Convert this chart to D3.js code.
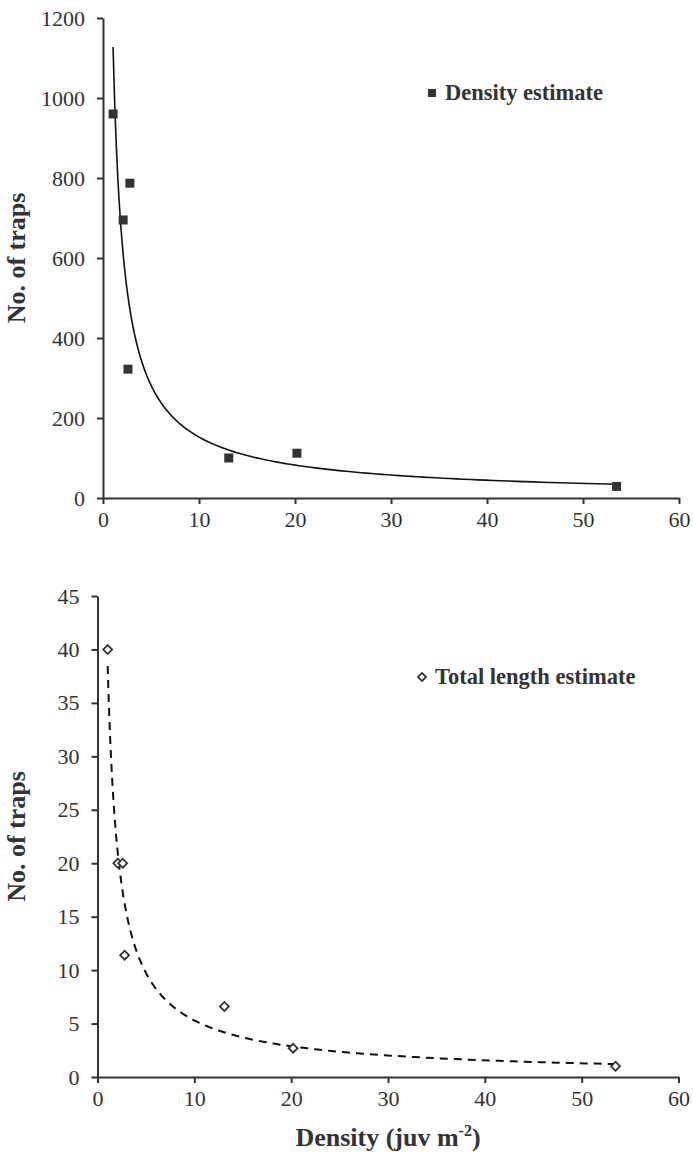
<!DOCTYPE html>
<html>
<head>
<meta charset="utf-8">
<script src="https://cdn.jsdelivr.net/npm/d3@7"></script>
<style>
  body { margin: 0; background: #fff; }
  text { font-family: "Liberation Serif", "Times New Roman", serif; fill: #333; }
</style>
</head>
<body>
<div id="chart"></div>
<script>
const width = 693;
const height = 1152;

// densities (juv m-2)
const densityX = [1.05, 2.1, 2.6, 2.8, 13.1, 20.2, 53.5];
// no. of traps, density estimate
const trapsDensity = [960, 695, 322, 787, 100, 112, 29];
// no. of traps, total length estimate
const trapsLength = [40, 20, 20, 11.4, 6.6, 2.7, 1.0];

const xTicks = [0, 10, 20, 30, 40, 50, 60];
const yTicksTop = [0, 200, 400, 600, 800, 1000, 1200];
const yTicksBottom = [0, 5, 10, 15, 20, 25, 30, 35, 40, 45];

// power trendline (least squares on log-log), like the spreadsheet one
function powerFit(xs, ys) {
    const lx = xs.map(Math.log), ly = ys.map(Math.log);
    const mx = d3.mean(lx), my = d3.mean(ly);
    const b = d3.sum(lx, (v, i) => (v - mx) * (ly[i] - my)) / d3.sum(lx, v => (v - mx) * (v - mx));
    const a = Math.exp(my - b * mx);
    return x => a * Math.pow(x, b);
}

const svg = d3.select("#chart").append("svg")
    .attr("width", width)
    .attr("height", height);

function drawPanel(opts) {
    const x = d3.scaleLinear().domain([0, 60]).range([opts.left, opts.right]);
    const y = d3.scaleLinear().domain(opts.yDomain).range([opts.bottom, opts.top]);
    const g = svg.append("g");

    const xAxis = g.append("g")
        .attr("transform", `translate(0,${opts.bottom})`)
        .call(d3.axisBottom(x).tickValues(xTicks).tickFormat(d3.format("d"))
            .tickSize(6).tickPadding(7).tickSizeOuter(0));
    const yAxis = g.append("g")
        .attr("transform", `translate(${opts.left},0)`)
        .call(d3.axisLeft(y).tickValues(opts.yTicks).tickFormat(d3.format("d"))
            .tickSize(6).tickPadding(12).tickSizeOuter(0));

    [xAxis, yAxis].forEach(ax => {
        ax.select(".domain").attr("stroke", "#333").attr("stroke-width", 2);
        ax.selectAll(".tick line").attr("stroke", "#333").attr("stroke-width", 2);
        ax.selectAll(".tick text")
            .style("font-size", "22px")
            .style("font-family", "Liberation Serif, serif")
            .attr("fill", "#333");
    });

    // y label
    g.append("text")
        .attr("transform", `translate(${opts.yLabelX},${(opts.top + opts.bottom) / 2}) rotate(-90)`)
        .attr("text-anchor", "middle")
        .style("font-size", "26px")
        .style("font-weight", "bold")
        .text("No. of traps");

    // trendline
    const fit = powerFit(densityX, opts.values);
    const x0 = d3.min(densityX), x1 = d3.max(densityX);
    const curve = d3.range(0, 201).map(i => {
        const t = i / 200;
        const xv = Math.exp(Math.log(x0) + t * (Math.log(x1) - Math.log(x0)));
        return [xv, fit(xv)];
    });
    g.append("path")
        .datum(curve)
        .attr("d", d3.line().x(d => x(d[0])).y(d => y(d[1])))
        .attr("fill", "none")
        .attr("stroke", "#111")
        .attr("stroke-width", opts.dashed ? 2 : 1.6)
        .attr("stroke-dasharray", opts.dashed ? "8,6" : null);

    // points
    const pts = densityX.map((d, i) => [d, opts.values[i]]);
    if (opts.dashed) {
        const diamond = d3.symbol().type(d3.symbolSquare).size(40);
        g.selectAll(".pt").data(pts).enter().append("path")
            .attr("d", diamond)
            .attr("transform", d => `translate(${x(d[0])},${y(d[1])}) rotate(45)`)
            .attr("fill", "#fff")
            .attr("stroke", "#333")
            .attr("stroke-width", 1.8);
    } else {
        g.selectAll(".pt").data(pts).enter().append("rect")
            .attr("x", d => x(d[0]) - 4.5)
            .attr("y", d => y(d[1]) - 4.5)
            .attr("width", 9)
            .attr("height", 9)
            .attr("fill", "#333");
    }

    // legend
    const lg = g.append("g").attr("transform", `translate(${opts.legendX},${opts.legendY})`);
    if (opts.dashed) {
        lg.append("path")
            .attr("d", d3.symbol().type(d3.symbolSquare).size(32))
            .attr("transform", "rotate(45)")
            .attr("fill", "#fff")
            .attr("stroke", "#333")
            .attr("stroke-width", 1.8);
    } else {
        lg.append("rect").attr("x", -4).attr("y", -4).attr("width", 8).attr("height", 8).attr("fill", "#333");
    }
    lg.append("text")
        .attr("x", 13)
        .attr("y", 7)
        .style("font-size", "22.5px")
        .style("font-weight", "bold")
        .text(opts.legend);
}

drawPanel({
    left: 103, right: 679, top: 18, bottom: 498,
    yDomain: [0, 1200], yTicks: yTicksTop, values: trapsDensity,
    dashed: false, yLabelX: 25,
    legendX: 432, legendY: 93, legend: "Density estimate"
});

drawPanel({
    left: 97.5, right: 678.5, top: 596, bottom: 1077,
    yDomain: [0, 45], yTicks: yTicksBottom, values: trapsLength,
    dashed: true, yLabelX: 25,
    legendX: 422, legendY: 677, legend: "Total length estimate"
});

// x label
const xl = svg.append("text")
    .attr("x", 388)
    .attr("y", 1146)
    .attr("text-anchor", "middle")
    .style("font-size", "26px")
    .style("font-weight", "bold");
xl.append("tspan").text("Density (juv m");
xl.append("tspan").attr("dy", -10).style("font-size", "16px").text("-2");
xl.append("tspan").attr("dy", 10).text(")");
</script>
</body>
</html>
